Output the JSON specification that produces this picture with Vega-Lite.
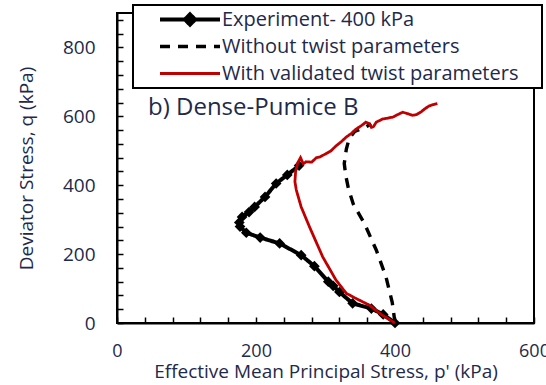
{
  "$schema": "https://vega.github.io/schema/vega-lite/v6.json",
  "width": 417,
  "height": 310,
  "autosize": "none",
  "padding": {"left": 117, "top": 13, "right": 12, "bottom": 62},
  "background": "white",
  "title": {"text": "b) Dense-Pumice B", "anchor": "start", "orient": "top", "frame": "group", "offset": 0, "dx": 31, "dy": 135, "baseline": "alphabetic", "font": "Open Sans", "fontSize": 24, "fontWeight": "normal", "color": "#1e2a4a"},
  "config": {
    "view": {"stroke": "black", "strokeWidth": 2},
    "font": "Open Sans",
    "axis": {"grid": false, "domainColor": "black", "domainWidth": 2, "tickColor": "black", "tickWidth": 1.5, "tickSize": -6, "labelFont": "Open Sans", "labelFontSize": 19, "labelColor": "#1e2a4a", "titleFont": "Open Sans", "titleFontSize": 19, "titleFontWeight": "normal", "titleColor": "#1e2a4a"}
  },
  "data": {"values": [
    {"s": "Experiment- 400 kPa", "i": 1, "p": 400, "q": 0},
    {"s": "Experiment- 400 kPa", "i": 2, "p": 383, "q": 25},
    {"s": "Experiment- 400 kPa", "i": 3, "p": 366, "q": 42},
    {"s": "Experiment- 400 kPa", "i": 4, "p": 339, "q": 57},
    {"s": "Experiment- 400 kPa", "i": 5, "p": 320, "q": 90},
    {"s": "Experiment- 400 kPa", "i": 6, "p": 311, "q": 108},
    {"s": "Experiment- 400 kPa", "i": 7, "p": 304, "q": 120},
    {"s": "Experiment- 400 kPa", "i": 8, "p": 284, "q": 165},
    {"s": "Experiment- 400 kPa", "i": 9, "p": 265, "q": 197},
    {"s": "Experiment- 400 kPa", "i": 10, "p": 234, "q": 231},
    {"s": "Experiment- 400 kPa", "i": 11, "p": 206, "q": 248},
    {"s": "Experiment- 400 kPa", "i": 12, "p": 186, "q": 262},
    {"s": "Experiment- 400 kPa", "i": 13, "p": 177, "q": 280},
    {"s": "Experiment- 400 kPa", "i": 14, "p": 176, "q": 292},
    {"s": "Experiment- 400 kPa", "i": 15, "p": 180, "q": 308},
    {"s": "Experiment- 400 kPa", "i": 16, "p": 190, "q": 322},
    {"s": "Experiment- 400 kPa", "i": 17, "p": 198, "q": 337},
    {"s": "Experiment- 400 kPa", "i": 18, "p": 213, "q": 366},
    {"s": "Experiment- 400 kPa", "i": 19, "p": 229, "q": 405},
    {"s": "Experiment- 400 kPa", "i": 20, "p": 245, "q": 430},
    {"s": "Experiment- 400 kPa", "i": 21, "p": 262, "q": 457},
    {"s": "Without twist parameters", "i": 1, "p": 400, "q": 0},
    {"s": "Without twist parameters", "i": 2, "p": 396, "q": 60},
    {"s": "Without twist parameters", "i": 3, "p": 387, "q": 134},
    {"s": "Without twist parameters", "i": 4, "p": 373, "q": 212},
    {"s": "Without twist parameters", "i": 5, "p": 356, "q": 289},
    {"s": "Without twist parameters", "i": 6, "p": 340, "q": 345},
    {"s": "Without twist parameters", "i": 7, "p": 333, "q": 390},
    {"s": "Without twist parameters", "i": 8, "p": 329, "q": 430},
    {"s": "Without twist parameters", "i": 9, "p": 327, "q": 463},
    {"s": "Without twist parameters", "i": 10, "p": 330, "q": 505},
    {"s": "Without twist parameters", "i": 11, "p": 334, "q": 535},
    {"s": "Without twist parameters", "i": 12, "p": 342, "q": 556},
    {"s": "Without twist parameters", "i": 13, "p": 355, "q": 566},
    {"s": "Without twist parameters", "i": 14, "p": 366, "q": 578},
    {"s": "With validated twist parameters", "i": 1, "p": 400, "q": 0},
    {"s": "With validated twist parameters", "i": 2, "p": 380, "q": 25},
    {"s": "With validated twist parameters", "i": 3, "p": 363, "q": 52},
    {"s": "With validated twist parameters", "i": 4, "p": 345, "q": 70},
    {"s": "With validated twist parameters", "i": 5, "p": 330, "q": 86},
    {"s": "With validated twist parameters", "i": 6, "p": 315, "q": 125},
    {"s": "With validated twist parameters", "i": 7, "p": 296, "q": 192},
    {"s": "With validated twist parameters", "i": 8, "p": 277, "q": 279},
    {"s": "With validated twist parameters", "i": 9, "p": 265, "q": 337},
    {"s": "With validated twist parameters", "i": 10, "p": 258, "q": 386},
    {"s": "With validated twist parameters", "i": 11, "p": 256, "q": 410},
    {"s": "With validated twist parameters", "i": 12, "p": 257, "q": 440},
    {"s": "With validated twist parameters", "i": 13, "p": 260, "q": 465},
    {"s": "With validated twist parameters", "i": 14, "p": 264, "q": 480},
    {"s": "With validated twist parameters", "i": 15, "p": 268, "q": 462},
    {"s": "With validated twist parameters", "i": 16, "p": 272, "q": 468},
    {"s": "With validated twist parameters", "i": 17, "p": 280, "q": 467},
    {"s": "With validated twist parameters", "i": 18, "p": 287, "q": 480},
    {"s": "With validated twist parameters", "i": 19, "p": 292, "q": 482},
    {"s": "With validated twist parameters", "i": 20, "p": 301, "q": 492},
    {"s": "With validated twist parameters", "i": 21, "p": 308, "q": 500},
    {"s": "With validated twist parameters", "i": 22, "p": 315, "q": 514},
    {"s": "With validated twist parameters", "i": 23, "p": 322, "q": 525},
    {"s": "With validated twist parameters", "i": 24, "p": 330, "q": 540},
    {"s": "With validated twist parameters", "i": 25, "p": 337, "q": 550},
    {"s": "With validated twist parameters", "i": 26, "p": 344, "q": 563},
    {"s": "With validated twist parameters", "i": 27, "p": 351, "q": 572},
    {"s": "With validated twist parameters", "i": 28, "p": 358, "q": 583},
    {"s": "With validated twist parameters", "i": 29, "p": 363, "q": 579},
    {"s": "With validated twist parameters", "i": 30, "p": 366, "q": 568},
    {"s": "With validated twist parameters", "i": 31, "p": 369, "q": 570},
    {"s": "With validated twist parameters", "i": 32, "p": 373, "q": 583},
    {"s": "With validated twist parameters", "i": 33, "p": 382, "q": 592},
    {"s": "With validated twist parameters", "i": 34, "p": 390, "q": 595},
    {"s": "With validated twist parameters", "i": 35, "p": 397, "q": 598},
    {"s": "With validated twist parameters", "i": 36, "p": 404, "q": 605},
    {"s": "With validated twist parameters", "i": 37, "p": 411, "q": 612},
    {"s": "With validated twist parameters", "i": 38, "p": 418, "q": 608},
    {"s": "With validated twist parameters", "i": 39, "p": 425, "q": 603},
    {"s": "With validated twist parameters", "i": 40, "p": 431, "q": 605},
    {"s": "With validated twist parameters", "i": 41, "p": 437, "q": 612},
    {"s": "With validated twist parameters", "i": 42, "p": 443, "q": 622},
    {"s": "With validated twist parameters", "i": 43, "p": 449, "q": 630},
    {"s": "With validated twist parameters", "i": 44, "p": 455, "q": 634},
    {"s": "With validated twist parameters", "i": 45, "p": 461, "q": 637}
  ]},
  "encoding": {
    "x": {"field": "p", "type": "quantitative", "scale": {"domain": [0, 600], "nice": false, "zero": false},
      "axis": {"title": "Effective Mean Principal Stress, p' (kPa)", "values": [0,40,80,120,160,200,240,280,320,360,400,440,480,520,560,600], "labelExpr": "datum.value % 200 === 0 ? datum.label : ''", "labelFontSize": 18, "labelPadding": 25, "titlePadding": 2, "labelFlush": false, "labelOverlap": false}},
    "y": {"field": "q", "type": "quantitative", "scale": {"domain": [0, 900], "nice": false},
      "axis": {"title": "Deviator Stress, q (kPa)", "values": [0,40,80,120,160,200,240,280,320,360,400,440,480,520,560,600,640,680,720,760,800,840,880], "labelExpr": "datum.value % 200 === 0 ? datum.label : ''", "labelPadding": 28, "titlePadding": 26, "labelFlush": false, "labelOverlap": false}}
  },
  "layer": [
    {
      "transform": [{"filter": "datum.s === 'Experiment- 400 kPa'"}],
      "mark": {"type": "point", "shape": "diamond", "filled": true, "color": "black", "size": 115, "opacity": 1}
    },
    {
      "mark": {"type": "line"},
      "encoding": {
        "order": {"field": "i", "type": "quantitative"},
        "color": {"field": "s", "type": "nominal",
          "scale": {"domain": ["Experiment- 400 kPa", "Without twist parameters", "With validated twist parameters"], "range": ["black", "black", "#c00000"]},
          "legend": {"title": "x", "titleOrient": "right", "titleOpacity": 0, "titlePadding": 12, "titleFont": "Open Sans", "titleFontSize": 19, "orient": "none", "legendX": 16, "legendY": -8, "symbolType": "stroke", "symbolSize": 3600, "clipHeight": 27, "rowPadding": 0, "padding": 1, "symbolOffset": 24, "labelOffset": 0, "labelFont": "Open Sans", "labelFontSize": 20, "labelColor": "#1e2a4a", "labelLimit": 400, "fillColor": "white", "strokeColor": "black",
            "encode": {
              "legend": {"update": {"strokeWidth": {"value": 2}}},
              "symbols": {"update": {
                "shape": {"signal": "datum.value === 'Experiment- 400 kPa' ? 'M-1,0H1M0,-0.17L0.17,0L0,0.17L-0.17,0Z' : 'M-1,0H1'"},
                "fill": {"signal": "datum.value === 'Experiment- 400 kPa' ? 'black' : 'transparent'"},
                "strokeWidth": {"signal": "datum.value === 'Experiment- 400 kPa' ? 4.5 : 3.5"},
                "strokeDash": {"signal": "datum.value === 'Without twist parameters' ? [9, 12] : [1, 0]"},
                "opacity": {"value": 1}
              }}
            }
          }},
        "strokeDash": {"field": "s", "type": "nominal", "legend": null,
          "scale": {"domain": ["Experiment- 400 kPa", "Without twist parameters", "With validated twist parameters"], "range": [[1, 0], [10, 8], [1, 0]]}},
        "strokeWidth": {"field": "s", "type": "nominal", "legend": null,
          "scale": {"domain": ["Experiment- 400 kPa", "Without twist parameters", "With validated twist parameters"], "range": [4, 2.8, 3]}}
      }
    }
  ]
}
